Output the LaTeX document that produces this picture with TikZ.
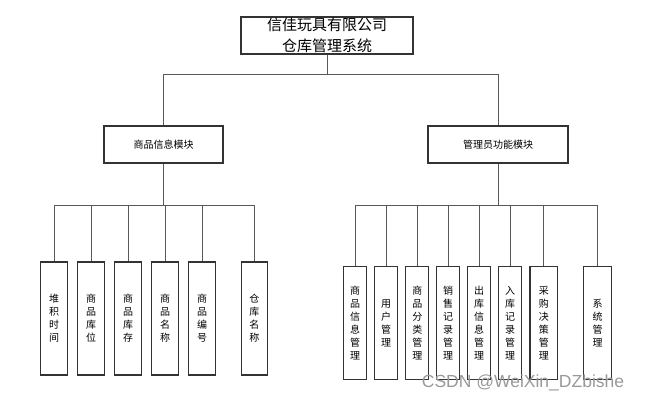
\documentclass[tikz,border=0pt]{standalone}
\usepackage{fontspec}
\setmainfont{Liberation Sans}
\newfontfamily\cjk{Noto Sans CJK SC}
\usepackage{tikz}
\usetikzlibrary{positioning}

\tikzset{
  box/.style={draw=black!80, line width=1.2pt, fill=white, align=center, inner sep=0pt},
  leaf/.style={box, minimum height=113pt, font=\cjk\fontsize{10}{13}\selectfont},
  link/.style={draw=black!65, line width=0.9pt}
}

\begin{document}
\begin{tikzpicture}[x=1pt, y=-1pt]

		\useasboundingbox (0,0) rectangle (648,400);

		% Draw the boxes
		\node[box, minimum width=172pt, minimum height=37pt, font=\cjk\fontsize{15}{21}\selectfont] (sys) at (327,35.5) {信佳玩具有限公司\\仓库管理系统};
		\node[box, minimum width=119pt, minimum height=37pt, font=\cjk\fontsize{10}{12}\selectfont] (goods) at (163.5,144.5) {商品信息模块};
		\node[box, minimum width=140pt, minimum height=37pt, font=\cjk\fontsize{10}{12}\selectfont] (admin) at (498,144.5) {管理员功能模块};

		% Leaves of the goods module
		\node[leaf, minimum width=26.6pt] (g1) at (54,318.5) {堆\\积\\时\\间};
		\node[leaf, minimum width=26.6pt] (g2) at (91,318.5) {商\\品\\库\\位};
		\node[leaf, minimum width=26.6pt] (g3) at (128,318.5) {商\\品\\库\\存};
		\node[leaf, minimum width=26.6pt] (g4) at (165,318.5) {商\\品\\名\\称};
		\node[leaf, minimum width=26.6pt] (g5) at (202,318.5) {商\\品\\编\\号};
		\node[leaf, minimum width=26.6pt] (g6) at (254.4,318.5) {仓\\库\\名\\称};

		% Leaves of the admin module
		\node[leaf, minimum width=23pt] (a1) at (355,323.3) {商\\品\\信\\息\\管\\理};
		\node[leaf, minimum width=23pt] (a2) at (386.2,323.3) {用\\户\\管\\理};
		\node[leaf, minimum width=23pt] (a3) at (417.3,323.3) {商\\品\\分\\类\\管\\理};
		\node[leaf, minimum width=23pt] (a4) at (448.2,323.3) {销\\售\\记\\录\\管\\理};
		\node[leaf, minimum width=23pt] (a5) at (479,323.3) {出\\库\\信\\息\\管\\理};
		\node[leaf, minimum width=23pt] (a6) at (510,323.3) {入\\库\\记\\录\\管\\理};
		\node[leaf, minimum width=27.7pt] (a7) at (543.8,323.3) {采\\购\\决\\策\\管\\理};
		\node[leaf, minimum width=28.3pt] (a8) at (597.5,323.3) {系\\统\\管\\理};

		% Junctions
		\coordinate (jsys) at (327,74);
		\coordinate (jgoods) at (163.5,205);
		\coordinate (jadmin) at (498,205);

		% Draw the connectors
		\draw[link] (sys.south) -- (jsys);
		\draw[link] (jsys) -| (goods.north);
		\draw[link] (jsys) -| (admin.north);
		\draw[link] (goods.south) -- (jgoods);
		\draw[link] (admin.south) -- (jadmin);
		\foreach \n in {g1,g2,g3,g4,g5,g6}
			\draw[link] (jgoods) -| (\n.north);
		\foreach \n in {a1,a2,a3,a4,a5,a6,a7,a8}
			\draw[link] (jadmin) -| (\n.north);

		% Watermark
		\node[anchor=base west, inner sep=0pt, text=black!40, font=\fontsize{17.5}{20}\selectfont] (mark) at (421.7,387) {CSDN @WeiXin\_DZbishe};

	\end{tikzpicture}
\end{document}
